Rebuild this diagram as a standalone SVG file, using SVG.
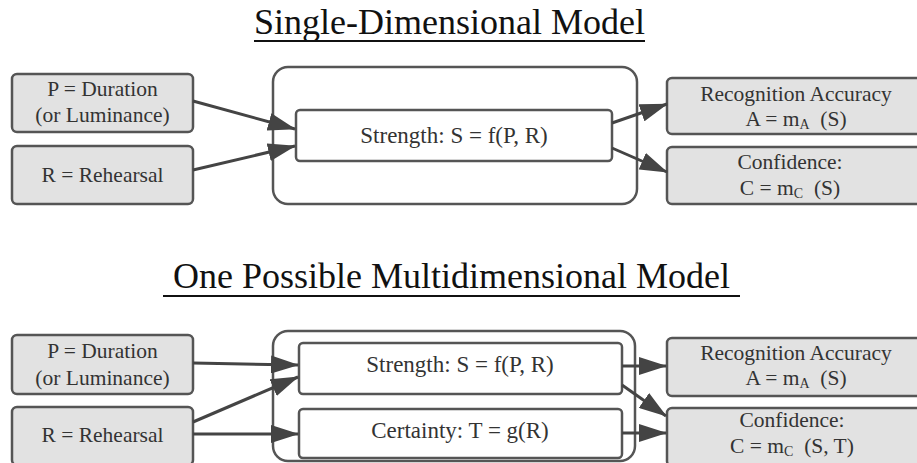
<svg xmlns="http://www.w3.org/2000/svg" width="917" height="463" viewBox="0 0 917 463">
<defs>
<style>
.title{font-size:36px;fill:#111;text-anchor:middle}
.ul{stroke:#111;stroke-width:2.2}
.in{fill:#e2e2e2;stroke:#555;stroke-width:2.5}
.out{fill:#e2e2e2;stroke:#555;stroke-width:2.5}
.outer{fill:#fff;stroke:#555;stroke-width:2.5}
.inner{fill:#fff;stroke:#555;stroke-width:2.5}
.lbl{font-size:21.5px;fill:#333;text-anchor:middle}
.big{font-size:23px}
.sub{font-size:14px}
.conn line{stroke:#444;stroke-width:3;fill:none}
</style>
<marker id="ah" viewBox="0 0 28 18" refX="27" refY="9" markerWidth="28" markerHeight="18" markerUnits="userSpaceOnUse" orient="auto">
<path d="M0,0 L28,9 L0,18 z" fill="#444"/>
</marker>
</defs>
<rect width="917" height="463" fill="#fff"/>
<g font-family="Liberation Serif, Times New Roman, DejaVu Serif, serif">
<g id="title1">
<text class="title" x="449.5" y="34">Single-Dimensional Model</text>
<line class="ul" x1="254" y1="41" x2="645" y2="41"/>
</g>
<g id="title2">
<text class="title" x="451.5" y="288">One Possible Multidimensional Model</text>
<line class="ul" x1="163" y1="296" x2="740" y2="296"/>
</g>

<g id="top-P">
<rect class="in" x="12" y="74" width="181" height="58" rx="5"/>
<text class="lbl" x="102.5" y="96">P = Duration</text>
<text class="lbl" x="102.5" y="122">(or Luminance)</text>
</g>
<g id="top-R">
<rect class="in" x="12" y="146" width="181" height="58" rx="5"/>
<text class="lbl" x="102.5" y="182">R = Rehearsal</text>
</g>
<g id="top-model">
<rect class="outer" x="273" y="67" width="364" height="137" rx="15"/>
</g>
<g id="top-strength">
<rect class="inner" x="296" y="110" width="316" height="51" rx="4"/>
<text class="lbl big" x="454" y="143">Strength: S = f(P, R)</text>
</g>
<g id="top-accuracy">
<rect class="out" x="667" y="78" width="260" height="56" rx="5"/>
<text class="lbl" x="796" y="101">Recognition Accuracy</text>
<text class="lbl" x="796" y="126">A = m<tspan class="sub" dy="3">A</tspan><tspan dy="-3">&#160; (S)</tspan></text>
</g>
<g id="top-confidence">
<rect class="out" x="667" y="147" width="260" height="57" rx="5"/>
<text class="lbl" x="790" y="169">Confidence:</text>
<text class="lbl" x="790" y="195">C = m<tspan class="sub" dy="3">C</tspan><tspan dy="-3">&#160; (S)</tspan></text>
</g>

<g id="bot-P">
<rect class="in" x="12" y="335" width="181" height="59" rx="5"/>
<text class="lbl" x="102.5" y="358">P = Duration</text>
<text class="lbl" x="102.5" y="385">(or Luminance)</text>
</g>
<g id="bot-R">
<rect class="in" x="12" y="407" width="181" height="58" rx="5"/>
<text class="lbl" x="102.5" y="442">R = Rehearsal</text>
</g>
<g id="bot-model">
<rect class="outer" x="273" y="331" width="362" height="130" rx="15"/>
</g>
<g id="bot-strength">
<rect class="inner" x="299" y="343" width="323" height="51" rx="4"/>
<text class="lbl big" x="460" y="372">Strength: S = f(P, R)</text>
</g>
<g id="bot-certainty">
<rect class="inner" x="299" y="409" width="323" height="49" rx="4"/>
<text class="lbl big" x="460" y="438">Certainty: T = g(R)</text>
</g>
<g id="bot-accuracy">
<rect class="out" x="667" y="338" width="260" height="58" rx="5"/>
<text class="lbl" x="796" y="360">Recognition Accuracy</text>
<text class="lbl" x="796" y="385">A = m<tspan class="sub" dy="3">A</tspan><tspan dy="-3">&#160; (S)</tspan></text>
</g>
<g id="bot-confidence">
<rect class="out" x="667" y="408" width="260" height="58" rx="5"/>
<text class="lbl" x="792" y="427">Confidence:</text>
<text class="lbl" x="792" y="453">C = m<tspan class="sub" dy="3">C</tspan><tspan dy="-3">&#160; (S, T)</tspan></text>
</g>
</g>

<g id="connectors" class="conn">
<line x1="193" y1="101" x2="295" y2="129" marker-end="url(#ah)"/>
<line x1="193" y1="170" x2="295" y2="146" marker-end="url(#ah)"/>
<line x1="612" y1="123" x2="667" y2="104" marker-end="url(#ah)"/>
<line x1="612" y1="148" x2="667" y2="172" marker-end="url(#ah)"/>
<line x1="193" y1="363" x2="298" y2="365" marker-end="url(#ah)"/>
<line x1="193" y1="422" x2="298" y2="377" marker-end="url(#ah)"/>
<line x1="193" y1="434" x2="298" y2="434" marker-end="url(#ah)"/>
<line x1="622" y1="366" x2="666" y2="366" marker-end="url(#ah)"/>
<line x1="622" y1="385" x2="666" y2="416" marker-end="url(#ah)"/>
<line x1="622" y1="433" x2="666" y2="433" marker-end="url(#ah)"/>
</g>
</svg>
